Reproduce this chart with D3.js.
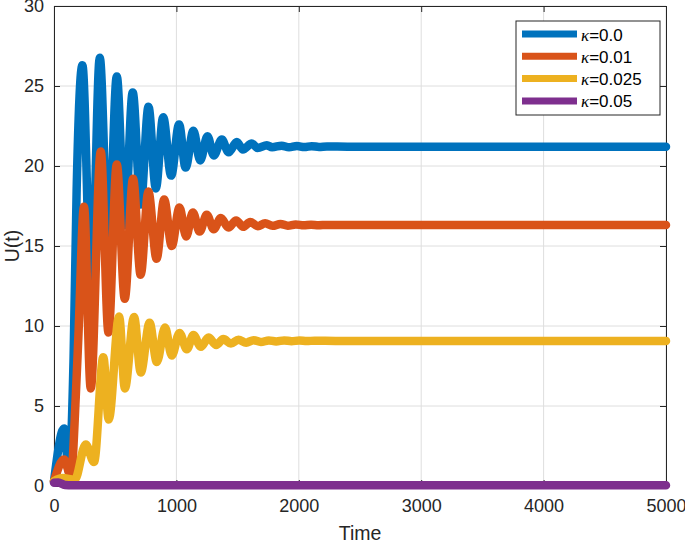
<!DOCTYPE html>
<html>
<head>
<meta charset="utf-8">
<script src="https://cdn.jsdelivr.net/npm/d3@7/dist/d3.min.js"></script>
<style>
  html, body { margin: 0; padding: 0; background: #fff; }
  svg { display: block; font-family: "Liberation Sans", Arial, Helvetica, sans-serif; }
</style>
</head>
<body>
<svg id="chart" width="685" height="543"></svg>
<script>
// ---- data ----
const xTicks = [0, 1000, 2000, 3000, 4000, 5000];
const yTicks = [0, 5, 10, 15, 20, 25, 30];
const seriesNames = ["0.0", "0.01", "0.025", "0.05"];
const seriesColors = ["#0072BD", "#D95319", "#EDB120", "#7E2F8E"];

const tK0 = [0, 82, 122, 160, 185, 232, 305, 374, 445, 513, 578, 643, 708, 772, 832, 892, 957, 1022, 1075, 1139, 1194, 1254, 1305, 1371, 1426, 1494, 1543, 1616, 1663, 1739, 1782, 1860, 1920, 1985, 2045, 2105, 2165, 2230, 2400, 5000];
const uK0 = [0.3, 3.6, 0.9, 8, 18.5, 26.3, 11.5, 26.76, 14.5, 25.6, 16.3, 24.6, 17.6, 23.7, 18.6, 23.05, 19.4, 22.6, 19.9, 22.2, 20.35, 21.86, 20.66, 21.66, 20.86, 21.5, 21.03, 21.4, 21.13, 21.3, 21.17, 21.27, 21.17, 21.25, 21.18, 21.24, 21.19, 21.22, 21.21, 21.21];

const tK1 = [0, 82, 138, 178, 200, 245, 300, 382, 445, 513, 578, 646, 708, 771, 838, 900, 962, 1025, 1080, 1134, 1190, 1248, 1305, 1363, 1425, 1488, 1545, 1603, 1665, 1725, 1785, 1850, 1910, 1975, 2040, 2100, 2160, 2230, 2400, 5000];
const uK1 = [0.3, 1.65, 0.6, 5.6, 9.5, 17.45, 6.1, 20.9, 9.6, 20.1, 11.7, 19.2, 13.2, 18.4, 14.2, 17.9, 15.0, 17.4, 15.6, 17.1, 15.9, 16.95, 16.05, 16.75, 16.15, 16.6, 16.2, 16.5, 16.24, 16.42, 16.26, 16.38, 16.27, 16.35, 16.29, 16.33, 16.3, 16.32, 16.31, 16.31];

const tK2 = [0, 68, 170, 259, 327, 403, 447, 532, 579, 654, 709, 781, 840, 907, 962, 1025, 1085, 1139, 1200, 1262, 1325, 1384, 1445, 1507, 1570, 1630, 1690, 1755, 1815, 1880, 1940, 2005, 2065, 2130, 2300, 5000];
const uK2 = [0.3, 0.5, 0.4, 2.6, 1.5, 8.05, 4.15, 10.6, 6.1, 10.57, 7.1, 10.2, 7.75, 9.9, 8.15, 9.57, 8.55, 9.43, 8.7, 9.28, 8.82, 9.18, 8.9, 9.14, 8.96, 9.11, 9.0, 9.1, 9.03, 9.1, 9.05, 9.09, 9.06, 9.08, 9.07, 9.07];

const tK3 = [0, 35, 90, 150, 5000];
const uK3 = [0.2, 0.22, 0.06, 0.04, 0.04];

// ---- chart ----
const svg = d3.select("#chart");
const pL = 54, pR = 666, pT = 6, pB = 486;
const x = d3.scaleLinear().domain([0, 5000]).range([pL, pR]);
const y = d3.scaleLinear().domain([0, 30]).range([pB, pT]);
const axisColor = "#262626";

// grid
const grid = svg.append("g");
grid.selectAll("line.gx").data(xTicks).join("line")
  .attr("x1", d => x(d)).attr("x2", d => x(d))
  .attr("y1", pT).attr("y2", pB)
  .attr("stroke", "#dedede").attr("stroke-width", 1);
grid.selectAll("line.gy").data(yTicks).join("line")
  .attr("y1", d => y(d)).attr("y2", d => y(d))
  .attr("x1", pL).attr("x2", pR)
  .attr("stroke", "#dedede").attr("stroke-width", 1);

function styleAxis(g) {
  g.attr("font-size", null).attr("font-family", null);
  g.selectAll("path.domain").attr("stroke", axisColor).attr("stroke-width", 1);
  g.selectAll(".tick line").attr("stroke", axisColor).attr("stroke-width", 1);
  g.selectAll(".tick text").attr("fill", axisColor)
    .style("font-family", '"Liberation Sans", Arial, Helvetica, sans-serif')
    .style("font-size", "18px");
}

const gx = svg.append("g").attr("transform", `translate(0,${pB})`)
  .call(d3.axisBottom(x).tickValues(xTicks).tickSizeInner(-6).tickSizeOuter(0).tickPadding(13).tickFormat(d3.format("d")));
styleAxis(gx);

const gy = svg.append("g").attr("transform", `translate(${pL},0)`)
  .call(d3.axisLeft(y).tickValues(yTicks).tickSizeInner(-6).tickSizeOuter(0).tickPadding(10).tickFormat(d3.format("d")));
styleAxis(gy);

const gt = svg.append("g").attr("transform", `translate(0,${pT})`)
  .call(d3.axisTop(x).tickValues(xTicks).tickSizeInner(-6).tickSizeOuter(0).tickFormat(""));
styleAxis(gt);
const gr = svg.append("g").attr("transform", `translate(${pR},0)`)
  .call(d3.axisRight(y).tickValues(yTicks).tickSizeInner(-6).tickSizeOuter(0).tickFormat(""));
styleAxis(gr);

// axis labels
svg.append("text").attr("x", (pL + pR) / 2).attr("y", 540)
  .attr("text-anchor", "middle").attr("fill", axisColor)
  .style("font-size", "19.5px").text("Time");
svg.append("text").attr("transform", `translate(19,${(pT + pB) / 2}) rotate(-90)`)
  .attr("text-anchor", "middle").attr("fill", axisColor)
  .style("font-size", "19.5px").text("U(t)");

// lines
const series = [
  { t: tK0, u: uK0 },
  { t: tK1, u: uK1 },
  { t: tK2, u: uK2 },
  { t: tK3, u: uK3 }
];
const line = d3.line()
  .x(d => x(d[0])).y(d => y(d[1]))
  .curve(d3.curveMonotoneX);
series.forEach((s, i) => {
  const pts = s.t.map((tv, j) => [tv, s.u[j]]);
  svg.append("path").datum(pts)
    .attr("d", line)
    .attr("fill", "none")
    .attr("stroke", seriesColors[i])
    .attr("stroke-width", 8.5)
    .attr("stroke-linejoin", "round")
    .attr("stroke-linecap", "round");
});

// legend
const lg = svg.append("g");
lg.append("rect").attr("x", 516).attr("y", 21).attr("width", 144).attr("height", 94)
  .attr("fill", "#fff").attr("stroke", axisColor).attr("stroke-width", 1);
seriesNames.forEach((name, i) => {
  const cy = 34 + i * 22.3;
  lg.append("line").attr("x1", 522).attr("x2", 577).attr("y1", cy).attr("y2", cy)
    .attr("stroke", seriesColors[i]).attr("stroke-width", 7);
  const tx = lg.append("text").attr("x", 581).attr("y", cy + 6.5)
    .attr("fill", "#000").style("font-size", "17px");
  tx.append("tspan").style("font-family", '"Liberation Serif", "Times New Roman", serif')
    .style("font-style", "italic").text("κ");
  tx.append("tspan").text("=" + name);
});
</script>
</body>
</html>
